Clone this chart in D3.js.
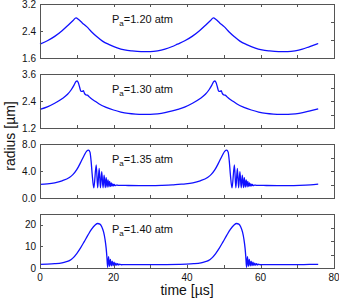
<!DOCTYPE html>
<html>
<head>
<meta charset="utf-8">
<script src="https://cdn.jsdelivr.net/npm/d3@7"></script>
<style>
  body { margin: 0; background: #fff; }
  svg text { font-family: "Liberation Sans", Arial, sans-serif; fill: #111; }
</style>
</head>
<body>
<svg id="chart" width="339" height="301"></svg>
<script>
// bubble radius vs time, one panel per driving pressure [t in us, r in um]
var r120 = [
    [0,2.01],[2,2.11],[4,2.24],[6,2.41],[8,2.61],[9,2.71],[9.8,2.79],[10.5,2.74],[11.5,2.64],[12.7,2.53],
    [14,2.38],[15.5,2.23],[17,2.1],[19,1.99],[21,1.9],[23,1.84],[25,1.81],[27.5,1.79],[30,1.79],[32,1.81],
    [34,1.86],[36,1.94],[37.4,2.01],[39.4,2.11],[41.4,2.24],[43.4,2.41],[45.4,2.61],[46.4,2.71],[47.2,2.79],
    [47.9,2.74],[48.9,2.64],[50.1,2.53],[51.4,2.38],[52.9,2.23],[54.4,2.1],[56.4,1.99],[58.4,1.9],[60.4,1.84],
    [62.4,1.81],[64.9,1.79],[67.4,1.79],[69.4,1.81],[71.4,1.86],[73.4,1.94],[75.7,2.03]
];
var r130 = [
    [0,2.03],[2,2.14],[4,2.3],[6,2.5],[7.5,2.7],[8.5,2.9],[9.3,3.12],[9.8,3.27],[10.1,3.29],[10.4,3.22],
    [10.8,3.0],[11.1,2.84],[11.5,2.83],[11.8,2.86],[12.1,2.74],[12.5,2.67],[12.9,2.66],[13.3,2.6],[14,2.5],
    [15,2.39],[16,2.28],[18,2.12],[20,2.0],[22,1.91],[24,1.85],[26,1.82],[28,1.81],[30,1.81],[32,1.83],
    [34,1.88],[36,1.96],[37.5,2.03],[39.5,2.14],[41.5,2.3],[43.5,2.5],[45,2.7],[46,2.9],[46.8,3.12],
    [47.3,3.27],[47.6,3.29],[47.9,3.22],[48.3,3.0],[48.6,2.84],[49,2.83],[49.3,2.86],[49.6,2.74],[50,2.67],
    [50.4,2.66],[50.8,2.6],[51.5,2.5],[52.5,2.39],[53.5,2.28],[55.5,2.12],[57.5,2.0],[59.5,1.91],[61.5,1.85],
    [63.5,1.82],[65.5,1.81],[67.5,1.81],[69.5,1.83],[71.5,1.88],[73.5,1.96],[75.7,2.05]
];
var r135 = [
    [0,2.03],[2,2.1],[4,2.25],[6,2.55],[8,3.05],[9,3.5],[10,4.2],[11,5.2],[12,6.3],[12.7,6.95],[13.2,7.1],
    [13.6,6.8],[13.9,5.5],[14.2,3.5],[14.65,1.5],[15.3,4.9],[15.7,1.5],[16.1,4.4],[16.45,1.5],[16.8,3.9],
    [17.15,1.52],[17.45,3.4],[17.75,1.55],[18.0,3.0],[18.25,1.6],[18.5,2.7],[18.75,1.65],[18.95,2.45],
    [19.2,1.7],[19.4,2.25],[19.6,1.76],[19.8,2.1],[20.0,1.8],[20.2,2.0],[20.4,1.84],[20.8,1.92],[21.3,1.87],
    [22,1.88],[24,1.85],[27,1.83],[30,1.83],[33,1.86],[36,1.94],[37.6,2.03],[39.6,2.1],[41.6,2.25],
    [43.6,2.55],[45.6,3.05],[46.6,3.5],[47.6,4.2],[48.6,5.2],[49.6,6.3],[50.3,6.95],[50.8,7.1],[51.2,6.8],
    [51.5,5.5],[51.8,3.5],[52.25,1.5],[52.9,4.9],[53.3,1.5],[53.7,4.4],[54.05,1.5],[54.4,3.9],[54.75,1.52],
    [55.05,3.4],[55.35,1.55],[55.6,3.0],[55.85,1.6],[56.1,2.7],[56.35,1.65],[56.55,2.45],[56.8,1.7],
    [57.0,2.25],[57.2,1.76],[57.4,2.1],[57.6,1.8],[57.8,2.0],[58.0,1.84],[58.4,1.92],[58.9,1.87],[59.6,1.88],
    [61.6,1.85],[64.6,1.83],[67.6,1.83],[70.6,1.86],[73.6,1.94],[75.7,2.05]
];
var r140 = [
    [0,1.7],[2,1.8],[4,2.0],[6,2.4],[7,2.8],[8,3.4],[9,4.7],[10,6.7],[11,9.2],[12,12.1],[13,15.1],[14,17.9],
    [15,19.9],[15.7,20.6],[16.3,20.3],[16.8,19.1],[17.3,16.7],[17.7,13.2],[18.0,9.2],[18.2,5.2],[18.4,0.3],
    [18.65,5.3],[18.9,0.8],[19.15,4.0],[19.4,1.0],[19.65,3.2],[19.9,1.1],[20.15,2.7],[20.4,1.2],[20.65,2.3],
    [20.9,1.3],[21.15,2.0],[21.4,1.4],[21.7,1.8],[22.1,1.5],[23,1.6],[26,1.55],[30,1.55],[34,1.6],[37.8,1.7],
    [39.8,1.8],[41.8,2.0],[43.8,2.4],[44.8,2.8],[45.8,3.4],[46.8,4.7],[47.8,6.7],[48.8,9.2],[49.8,12.1],
    [50.8,15.1],[51.8,17.9],[52.8,19.9],[53.5,20.6],[54.1,20.3],[54.6,19.1],[55.1,16.7],[55.5,13.2],
    [55.8,9.2],[56.0,5.2],[56.2,0.3],[56.45,5.3],[56.7,0.8],[56.95,4.0],[57.2,1.0],[57.45,3.2],[57.7,1.1],
    [57.95,2.7],[58.2,1.2],[58.45,2.3],[58.7,1.3],[58.95,2.0],[59.2,1.4],[59.5,1.8],[59.9,1.5],[60.8,1.6],
    [63.8,1.55],[67.8,1.55],[71.8,1.6],[75.7,1.7]
];

var series = [r120, r130, r135, r140];
var pressures = ["1.20", "1.30", "1.35", "1.40"];
var yDomains = [[1.6, 3.2], [1.2, 3.6], [0, 8], [0, 25]];
var yTickVals = [[1.6, 2.4, 3.2], [1.2, 2.4, 3.6], [0, 4, 8], [0, 10, 20]];
var yFormats = [".1f", ".1f", ".1f", "d"];
var rightDivs = [3, 4, 4, 4];
var xTickVals = [0, 10, 20, 30, 40, 50, 60, 70, 80];
var xLabelVals = [0, 20, 40, 60, 80];

var left = 40, right = 334, panelH = 54;
var tops = [4, 74, 144, 214];

var svg = d3.select("#chart");
var x = d3.scaleLinear().domain([0, 80]).range([left, right]);

series.forEach(function (data, i) {
    var top = tops[i];
    var y = d3.scaleLinear().domain(yDomains[i]).range([top + panelH, top]);
    var g = svg.append("g").attr("class", "panel");

    // curve
    var line = d3.line()
        .x(function (d) { return x(d[0]); })
        .y(function (d) { return y(d[1]); })
        .curve(d3.curveMonotoneX);
    g.append("path")
        .datum(data)
        .attr("d", line)
        .attr("fill", "none")
        .attr("stroke", "#1010ff")
        .attr("stroke-width", 1.3);

    // inward ticks on all sides
    var tk = 3;
    var ticks = g.append("g").attr("stroke", "#555").attr("stroke-width", 1);
    xTickVals.forEach(function (v) {
        var px = Math.round(x(v)) + 0.5;
        ticks.append("line").attr("x1", px).attr("x2", px).attr("y1", top).attr("y2", top + tk);
        ticks.append("line").attr("x1", px).attr("x2", px).attr("y1", top + panelH).attr("y2", top + panelH - tk);
    });
    yTickVals[i].forEach(function (v) {
        var py = Math.round(y(v)) + 0.5;
        ticks.append("line").attr("x1", left).attr("x2", left + tk).attr("y1", py).attr("y2", py);
    });
    var yr = d3.scaleLinear().domain([0, rightDivs[i]]).range([top + panelH, top]);
    d3.range(1, rightDivs[i]).forEach(function (k) {
        var py = Math.round(yr(k)) + 0.5;
        ticks.append("line").attr("x1", right).attr("x2", right - tk).attr("y1", py).attr("y2", py);
    });

    // frame
    g.append("rect")
        .attr("x", left + 0.5).attr("y", top + 0.5)
        .attr("width", right - left).attr("height", panelH)
        .attr("fill", "none").attr("stroke", "#555").attr("stroke-width", 1);

    // y labels
    var fmt = d3.format(yFormats[i]);
    g.selectAll(".ylab")
        .data(yTickVals[i])
        .enter().append("text")
        .attr("class", "ylab")
        .attr("x", left - 4)
        .attr("y", function (d) { return y(d) + 3.5; })
        .attr("text-anchor", "end")
        .attr("font-size", 10)
        .text(function (d) { return fmt(d); });

    // pressure annotation
    var t = g.append("text")
        .attr("x", 112)
        .attr("y", top + 18.5)
        .attr("font-size", 11);
    t.append("tspan").text("P");
    t.append("tspan").attr("font-size", 8).attr("dy", 3).text("a");
    t.append("tspan").attr("dy", -3).text("=" + pressures[i] + " atm");

    if (i === series.length - 1) {
        g.selectAll(".xlab")
            .data(xLabelVals)
            .enter().append("text")
            .attr("class", "xlab")
            .attr("x", function (d) { return x(d); })
            .attr("y", top + panelH + 13)
            .attr("text-anchor", "middle")
            .attr("font-size", 10)
            .text(function (d) { return d; });
    }
});

svg.append("text")
    .attr("x", (left + right) / 2)
    .attr("y", 295)
    .attr("text-anchor", "middle")
    .attr("font-size", 14)
    .text("time [\u00b5s]");

svg.append("text")
    .attr("transform", "translate(15," + (tops[0] + (tops[3] + panelH - tops[0]) / 2) + ") rotate(-90)")
    .attr("text-anchor", "middle")
    .attr("font-size", 14)
    .text("radius [\u00b5m]");
</script>
</body>
</html>
